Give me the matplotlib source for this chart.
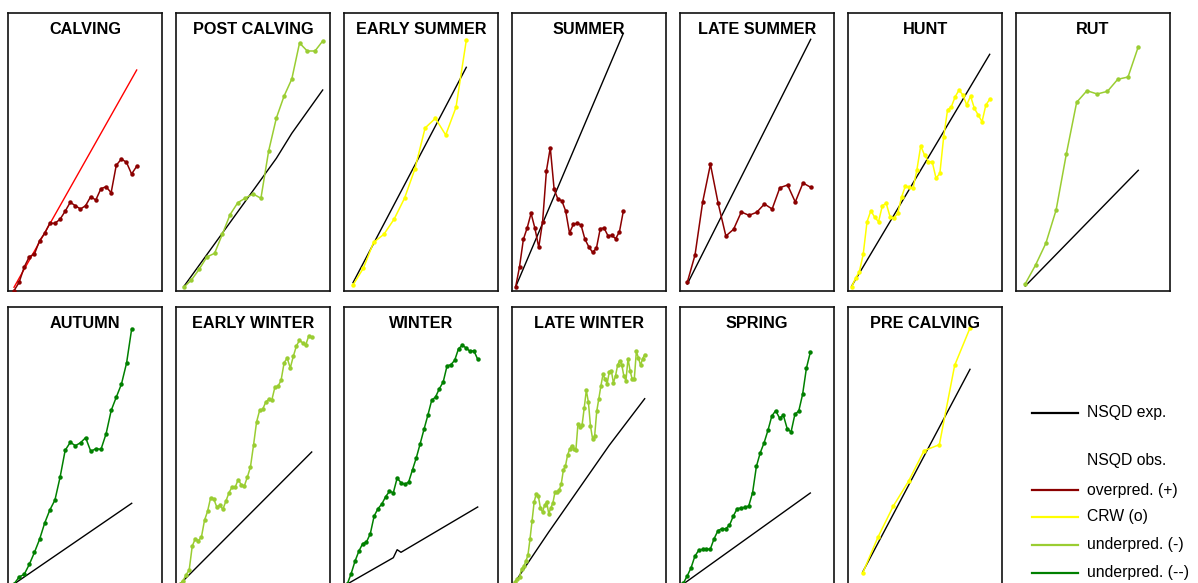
import matplotlib
matplotlib.use("Agg")
import matplotlib.pyplot as plt
from matplotlib.lines import Line2D

plt.rcParams['font.family'] = ['Liberation Sans', 'DejaVu Sans']

# observed NSQD per season (index = time step), and expected NSQD (index, value)
calving_obs = [0.3, 8.7, 24, 34.3, 37, 50.3, 57.7, 67.7, 67.7, 71.7, 79.7, 88.7, 85.3, 82, 85.3,
               94.3, 91, 102.3, 104.3, 98.3, 125.7, 132, 128.7, 117, 124.7]
calving_exp_t, calving_exp = [0, 24], [3.7, 221]

post_calving_obs = [3.7, 11, 21.7, 34, 37.7, 56.7, 76.3, 88.3, 93, 97, 92.7, 140, 173, 195, 212,
                    248, 240, 240, 250]
post_calving_exp_t, post_calving_exp = [0, 12, 14, 18], [4.3, 132.7, 157.7, 201]

early_summer_obs = [6, 22.7, 48.7, 56.7, 72, 92.7, 121.7, 163, 172.7, 156, 183.7, 250.7]
early_summer_exp_t, early_summer_exp = [0, 11], [8.3, 223.7]

summer_obs = [4.3, 24.3, 51.7, 63.3, 77.7, 62.7, 43.7, 69.3, 120.3, 143.3, 101.7, 91.7, 90.3, 80,
              58, 66.7, 67.7, 66, 52, 44.3, 38.7, 42.7, 62.3, 63, 55.3, 55.7, 52.3, 59.3, 79.7]
summer_exp_t, summer_exp = [0, 28], [4.3, 257.7]

late_summer_obs = [8.7, 36, 89.3, 126.7, 87.7, 55, 61.7, 79, 75.7, 78.7, 87, 82, 103.3, 106, 89,
                   108, 103.7]
late_summer_exp_t, late_summer_exp = [0, 16], [7, 251.7]

hunt_obs = [4.3, 12.7, 19.3, 36.7, 69.3, 80.3, 73.7, 69.3, 85.3, 87.7, 74.3, 72.7, 77.7, 93.7, 105,
            103.7, 102.7, 121, 145, 136, 129.3, 129.3, 112.7, 117.7, 154.3, 181, 184.3, 194.3, 201,
            196, 186, 195, 182.7, 176, 169.3, 186, 191.7]
hunt_exp_t, hunt_exp = [0, 36], [5, 236.7]

rut_obs = [7.3, 26, 47.7, 81, 137.3, 188.7, 200.3, 197, 199.7, 211.7, 214, 244.3]
rut_exp_t, rut_exp = [0, 11], [5, 120.7]

autumn_obs = [1, 8, 10.7, 20.7, 32.7, 45.7, 62, 75, 85, 107.7, 134.7, 142.7, 139.3, 142.3, 147.3,
              133.7, 136.3, 135.7, 151.3, 174.7, 188, 201, 222, 256.3]
autumn_exp_t, autumn_exp = [0, 23], [1, 81.7]

early_winter_obs = [1, 4.3, 10.3, 15, 39, 46.3, 44.3, 48, 64.7, 73.7, 87.3, 86.3, 78, 79.7, 75.7,
                    84, 92.3, 98, 97.7, 105.3, 100.3, 99, 108, 118, 139.7, 163, 174.7, 175.7, 183,
                    185.7, 185.3, 198, 198.7, 204.7, 222.3, 227, 217, 228.7, 239, 244.7, 242.3,
                    239.7, 248.7, 248]
early_winter_exp_t, early_winter_exp = [0, 43], [1, 133]

winter_obs = [1, 11.3, 23.7, 33.7, 41.3, 43, 51.3, 69, 76.3, 81, 88.3, 93.7, 92.3, 107, 102.3,
              100.7, 103, 115.3, 127.3, 141.3, 155.7, 169.7, 184.7, 188, 196.3, 203, 219, 220.3,
              224.7, 236.3, 239.7, 237, 233.7, 234.3, 225.7]
winter_exp_t, winter_exp = [0, 12, 13, 14, 34], [1, 27.3, 35.3, 32.7, 78]

late_winter_obs = [0.3, 3, 5.7, 8, 16.3, 18.7, 23.7, 29.7, 45.7, 64.3, 83, 91.3, 89, 77, 73, 79.7,
                   83, 71.3, 77, 82.3, 93, 93, 94.7, 101.3, 114.7, 119, 129.7, 135.7, 139, 136.3,
                   134.7, 161, 158, 160.3, 177, 194.7, 183, 159, 146.3, 149, 173.7, 186.3, 199,
                   210.7, 205.7, 201.3, 213, 214.3, 202.3, 209, 219.7, 224.3, 220.3, 209, 204.3,
                   226.3, 214.3, 205.7, 205.7, 233.7, 227, 219.7, 226.3, 230.3]
late_winter_exp_t, late_winter_exp = [0, 17, 46, 63], [0.3, 53, 139.7, 186.3]

spring_obs = [1.7, 9, 17, 28.7, 34.7, 35.7, 36, 35.7, 46.3, 54.3, 56.3, 56.3, 59.7, 69, 76.3, 77,
              77.7, 79, 92.3, 118.7, 132.3, 142.3, 154.7, 169, 174.3, 167, 169.7, 156.3, 153,
              170.7, 174, 190.7, 217, 232.7]
spring_exp_t, spring_exp = [0, 33], [1, 92]

pre_calving_obs = [12, 48, 79, 104, 134.3, 140.3, 219.7, 257]
pre_calving_exp_t, pre_calving_exp = [0, 7], [13, 215.7]

OVER, CRW, UNDER, UNDER2 = "#8b0000", "#ffff00", "#9acd32", "#008000"

panels = [
    ("CALVING", calving_obs, OVER, calving_exp_t, calving_exp, "#ff0000", (6.0, 128.7)),
    ("POST CALVING", post_calving_obs, UNDER, post_calving_exp_t, post_calving_exp, "k", (7.7, 146.7)),
    ("EARLY SUMMER", early_summer_obs, CRW, early_summer_exp_t, early_summer_exp, "k", (9, 122.3)),
    ("SUMMER", summer_obs, OVER, summer_exp_t, summer_exp, "k", (3.7, 111.3)),
    ("LATE SUMMER", late_summer_obs, OVER, late_summer_exp_t, late_summer_exp, "k", (7.3, 130.7)),
    ("HUNT", hunt_obs, CRW, hunt_exp_t, hunt_exp, "k", (3.7, 141.7)),
    ("RUT", rut_obs, UNDER, rut_exp_t, rut_exp, "k", (9.3, 122.3)),
    ("AUTUMN", autumn_obs, UNDER2, autumn_exp_t, autumn_exp, "k", (6, 123.7)),
    ("EARLY WINTER", early_winter_obs, UNDER, early_winter_exp_t, early_winter_exp, "k", (4, 135.7)),
    ("WINTER", winter_obs, UNDER2, winter_exp_t, winter_exp, "k", (3.3, 133.7)),
    ("LATE WINTER", late_winter_obs, UNDER, late_winter_exp_t, late_winter_exp, "k", (1.3, 132.7)),
    ("SPRING", spring_obs, UNDER2, spring_exp_t, spring_exp, "k", (3.3, 130.3)),
    ("PRE CALVING", pre_calving_obs, CRW, pre_calving_exp_t, pre_calving_exp, "k", (14.7, 122)),
]

W, H = 1198, 583
PW, PH = 154, 278          # panel size in px
ROW_TOP = [13, 305]
fig = plt.figure(figsize=(W / 100, H / 100), dpi=100)

for i, (name, obs, col, et, ev, ecol, (f, l)) in enumerate(panels):
    r, c = divmod(i, 7)
    left, top = 8 + 168 * c, ROW_TOP[r]
    ax = fig.add_axes([left / W, (H - top - PH - (2 if r else 0)) / H, PW / W, PH / H])
    n = len(obs)
    step = (l - f) / (n - 1)
    ax.set_xlim(-f / step, (n - 1) + (PW - l) / step)
    ax.set_ylim(0, PH)
    ax.plot(et, ev, color=ecol, lw=1.0, zorder=2)
    ax.plot(range(n), obs, color=col, lw=1.1, marker="o", ms=2.2, mec=col, zorder=3)
    ax.set_xticks([]); ax.set_yticks([])
    for s in ax.spines.values():
        s.set_linewidth(1.2); s.set_color("#111111")
    ax.text(0.5, 1 - 16 / PH, name, transform=ax.transAxes, ha="center", va="center",
            fontsize=11.7, fontweight="bold")

# legend, drawn by hand in pixel coords
def px(x, y): return x / W, 1 - y / H
rows = [("NSQD exp.", "k", 413), ("NSQD obs.", None, 461), ("overpred. (+)", OVER, 490),
        ("CRW (o)", CRW, 517), ("underpred. (-)", UNDER, 545), ("underpred. (--)", UNDER2, 573)]
for label, col, y in rows:
    if col:
        (x0, y0), (x1, _) = px(1032, y), px(1078, y)
        fig.add_artist(Line2D([x0, x1], [y0, y0], color=col, lw=1.6))
    fig.text(*px(1087, y), label, ha="left", va="center", fontsize=11.3)

fig.savefig("out.png", dpi=100)
